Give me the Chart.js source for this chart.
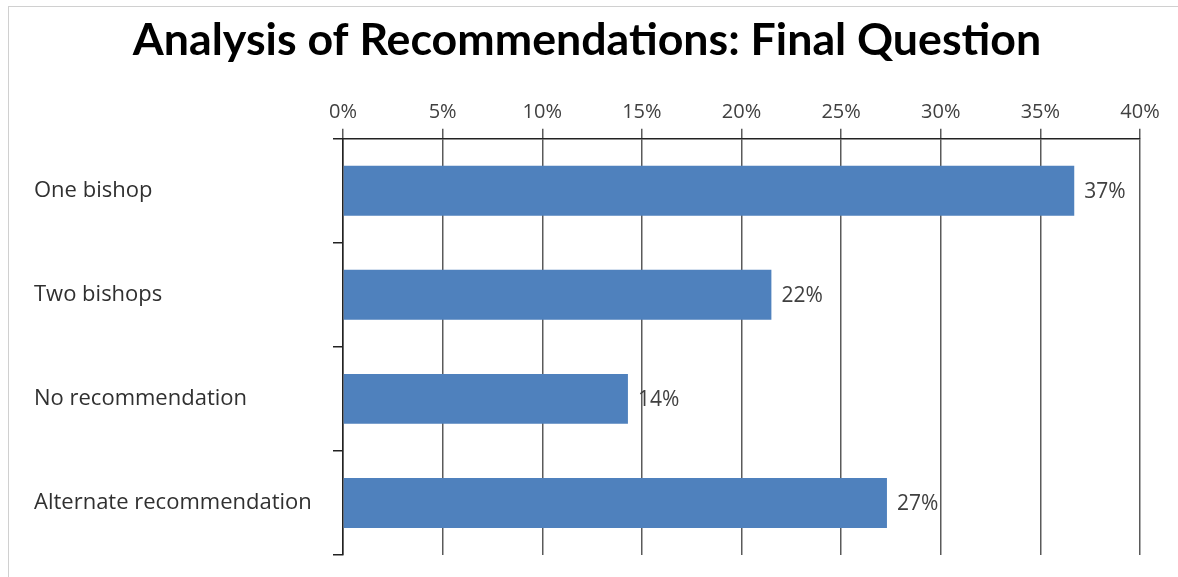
<!DOCTYPE html>
<html>
<head>
<meta charset="utf-8">
<script src="https://cdn.jsdelivr.net/npm/chart.js@4"></script>
<style>
html,body{margin:0;padding:0;background:#fff;}
#wrap{position:absolute;left:0;top:0;width:1178px;height:577px;}
</style>
</head>
<body>
<div id="wrap"><canvas id="c" width="1178" height="577"></canvas></div>
<script>
const categories = ["One bishop", "Two bishops", "No recommendation", "Alternate recommendation"];
const shares = [36.7, 21.5, 14.3, 27.3];
const tickMin = 0, tickMax = 40, tickStep = 5;

const TITLE_FONT = "Lato, 'Open Sans', sans-serif";
const FONT = "'Open Sans', 'Noto Sans', sans-serif";

const borderPlugin = {
  id: 'outerBorder',
  beforeDraw(chart) {
    const ctx = chart.ctx;
    ctx.save();
    ctx.fillStyle = '#fff';
    ctx.fillRect(0, 0, chart.width, chart.height);
    ctx.strokeStyle = '#d0d0d0';
    ctx.lineWidth = 1;
    ctx.strokeRect(8.5, 6.5, chart.width + 20, chart.height + 20);
    ctx.restore();
  }
};

const labelPlugin = {
  id: 'barLabels',
  afterDatasetsDraw(chart) {
    const ctx = chart.ctx;
    const meta = chart.getDatasetMeta(0);
    ctx.save();
    ctx.font = "21px " + FONT;
    ctx.fillStyle = '#404040';
    ctx.textAlign = 'left';
    ctx.textBaseline = 'middle';
    meta.data.forEach((bar, i) => {
      ctx.fillText(Math.round(shares[i]) + '%', bar.x + 10, bar.y + 1);
    });
    ctx.restore();
  }
};

new Chart(document.getElementById('c'), {
  type: 'bar',
  data: {
    labels: categories,
    datasets: [{
      data: shares,
      backgroundColor: '#4F81BD',
      borderColor: '#4F81BD',
      borderWidth: 0,
      categoryPercentage: 1.0,
      barPercentage: 0.48
    }]
  },
  options: {
    indexAxis: 'y',
    responsive: false,
    animation: false,
    layout: { padding: { left: 34, right: 38, top: 0, bottom: 22 } },
    plugins: {
      legend: { display: false },
      tooltip: { enabled: false },
      title: {
        display: true,
        text: 'Analysis of Recommendations: Final Question',
        color: '#000',
        font: { family: TITLE_FONT, size: 44.7, weight: 'bold' },
        padding: { top: 14, bottom: 29 }
      }
    },
    scales: {
      x: {
        position: 'top',
        min: tickMin,
        max: tickMax,
        ticks: {
          stepSize: tickStep,
          callback: v => v + '%',
          color: '#404040',
          font: { family: FONT, size: 20 },
          padding: 4
        },
        grid: {
          color: '#5a5a5a',
          lineWidth: 1.5,
          tickLength: 10,
          drawTicks: true
        },
        border: { display: true, color: '#222', width: 1.5 }
      },
      y: {
        position: 'left',
        afterFit(scale) {
          scale.width = 309;
          scale.paddingTop = 0;
          scale.paddingBottom = 0;
        },
        ticks: {
          crossAlign: 'far',
          color: '#303030',
          font: { family: FONT, size: 22 },
          padding: 14
        },
        grid: {
          offset: true,
          drawOnChartArea: false,
          drawTicks: true,
          tickLength: 10,
          color: '#222',
          lineWidth: 1.5
        },
        border: { display: true, color: '#222', width: 1.5 }
      }
    }
  },
  plugins: [borderPlugin, labelPlugin]
});
</script>
</body>
</html>
